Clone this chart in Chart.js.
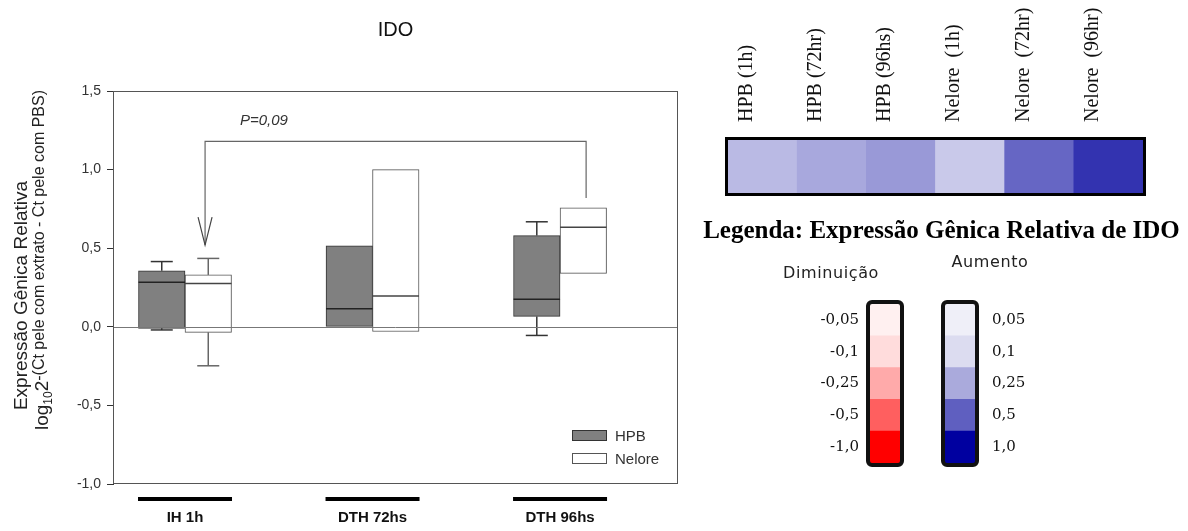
<!DOCTYPE html>
<html><head><meta charset="utf-8">
<script src="https://cdn.jsdelivr.net/npm/chart.js@4.4.1/dist/chart.umd.min.js"></script>
<style>
html,body{margin:0;padding:0;background:#fff;}
#wrap{position:relative;width:1188px;height:531px;overflow:hidden;background:#fff;}
canvas{position:absolute;}
</style></head><body>
<div id="wrap">
<canvas id="main" width="700" height="531" style="left:0;top:0;width:700px;height:531px"></canvas>
<canvas id="heat" width="488" height="210" style="left:700px;top:0;width:488px;height:210px"></canvas>
<canvas id="leg" width="488" height="331" style="left:700px;top:200px;width:488px;height:331px"></canvas>
</div>
<script>
// ---------- data: box plot ----------
const groups = ['IH 1h', 'DTH 72hs', 'DTH 96hs'];
const seriesNames = ['HPB', 'Nelore'];
const hpbQ1 = [-0.01, 0.00, 0.066];
const hpbQ3 = [0.356, 0.515, 0.58];
const hpbMedian = [0.284, 0.115, 0.176];
const hpbWhiskerLow = [-0.02, null, -0.055];
const hpbWhiskerHigh = [0.415, null, 0.668];
const neloreQ1 = [-0.035, -0.03, 0.34];
const neloreQ3 = [0.33, 1.0, 0.757];
const neloreMedian = [0.276, 0.196, 0.634];
const neloreWhiskerLow = [-0.248, null, null];
const neloreWhiskerHigh = [0.435, null, null];
const yTickValues = [-1.0, -0.5, 0.0, 0.5, 1.0, 1.5];
const chartTitle = 'IDO';
const yTitle1 = 'Expressão Gênica Relativa';
const yTitle2 = ['log', '10', '2', '-(Ct pele com extrato - Ct pele com PBS)'];
const pValueText = 'P=0,09';
// ---------- data: heat map ----------
const heatLabels = ['HPB (1h)', 'HPB (72hr)', 'HPB (96hs)', 'Nelore  (1h)', 'Nelore  (72hr)', 'Nelore  (96hr)'];
const heatValues = [0.27, 0.34, 0.40, 0.21, 0.60, 0.80];
// ---------- data: colour legend ----------
const legendTitle = 'Legenda: Expressão Gênica Relativa de IDO';
const decreaseTitle = 'Diminuição';
const increaseTitle = 'Aumento';
const decreaseLabels = ['-0,05', '-0,1', '-0,25', '-0,5', '-1,0'];
const increaseLabels = ['0,05', '0,1', '0,25', '0,5', '1,0'];

// ---------- styles / annotation placement ----------
const redPalette = ['#fff0f0', '#ffdcdc', '#ffaaaa', '#ff5f5f', '#ff0000'];
const bluePalette = ['#efeff8', '#dcdcf0', '#aaaadc', '#5f5fc0', '#0000a0'];
const bracket = { x1: 1.107, x2: 3.139, yTop: 1.18, yArrow: 0.52, yRight: 0.82 };
const pLabelPos = { x: 1.293, y: 1.31 };
function heatColor(t) {
  const r = Math.round(255 * (1 - t));
  const b = Math.round(255 * (1 - t) + 156 * t);
  return `rgb(${r},${r},${b})`;
}
const SANS = '"Liberation Sans", Arial, sans-serif';
const SERIF = '"Liberation Serif", "Times New Roman", serif';

function line(ctx, x1, y1, x2, y2) { ctx.beginPath(); ctx.moveTo(x1, y1); ctx.lineTo(x2, y2); ctx.stroke(); }

const mainDecor = {
  id: 'mainDecor',
  afterDatasetsDraw(chart) {
    const { ctx, chartArea: a, scales: { x, y } } = chart;
    ctx.save();
    chart.data.datasets.forEach((ds, di) => {
      const meta = chart.getDatasetMeta(di);
      meta.data.forEach((bar, i) => {
        const cx = bar.x, w = bar.width;
        ctx.strokeStyle = ds.medianColor; ctx.lineWidth = 1.5;
        const my = y.getPixelForValue(ds.medians[i]);
        line(ctx, cx - w / 2, my, cx + w / 2, my);
        ctx.strokeStyle = ds.whiskerColor; ctx.lineWidth = 1.5;
        const cap = 11;
        if (ds.wHigh[i] != null) {
          const t = y.getPixelForValue(ds.q3[i]), h = y.getPixelForValue(ds.wHigh[i]);
          line(ctx, cx, t, cx, h); line(ctx, cx - cap, h, cx + cap, h);
        }
        if (ds.wLow[i] != null) {
          const b = y.getPixelForValue(ds.q1[i]), l = y.getPixelForValue(ds.wLow[i]);
          line(ctx, cx, b, cx, l); line(ctx, cx - cap, l, cx + cap, l);
        }
      });
    });
    ctx.strokeStyle = '#777'; ctx.lineWidth = 1;
    const zy = Math.round(y.getPixelForValue(0)) + 0.5;
    line(ctx, a.left, zy, a.right, zy);
    ctx.strokeStyle = '#555';
    ctx.strokeRect(Math.round(a.left) + 0.5, Math.round(a.top) + 0.5, Math.round(a.right - a.left) - 1, Math.round(a.bottom - a.top) - 1);
    const bx1 = x.getPixelForValue(bracket.x1), bx2 = x.getPixelForValue(bracket.x2);
    const by = y.getPixelForValue(bracket.yTop), ba = y.getPixelForValue(bracket.yArrow), br = y.getPixelForValue(bracket.yRight);
    ctx.strokeStyle = '#666'; ctx.lineWidth = 1.2;
    ctx.beginPath(); ctx.moveTo(bx1, ba); ctx.lineTo(bx1, by); ctx.lineTo(bx2, by); ctx.lineTo(bx2, br); ctx.stroke();
    ctx.strokeStyle = '#444';
    ctx.beginPath(); ctx.moveTo(bx1 - 7, ba - 28); ctx.lineTo(bx1, ba); ctx.lineTo(bx1 + 7, ba - 28); ctx.stroke();
    ctx.fillStyle = '#333'; ctx.font = 'italic 15px ' + SANS; ctx.textAlign = 'left'; ctx.textBaseline = 'middle';
    ctx.fillText(pValueText, x.getPixelForValue(pLabelPos.x), y.getPixelForValue(pLabelPos.y));
    ctx.font = '15px ' + SANS; ctx.textBaseline = 'alphabetic';
    chart.data.datasets.forEach((ds, di) => {
      const sx = a.right - 106, sy = a.bottom - 54 + di * 23;
      ctx.fillStyle = ds.backgroundColor; ctx.fillRect(sx, sy, 35, 11);
      ctx.strokeStyle = ds.borderColor; ctx.lineWidth = 1; ctx.strokeRect(sx + 0.5, sy + 0.5, 34, 10);
      ctx.fillStyle = '#333'; ctx.fillText(ds.label, sx + 43, sy + 11);
    });
    ctx.restore();
  },
  afterDraw(chart) {
    const { ctx, chartArea: a, scales: { x } } = chart;
    ctx.save();
    ctx.strokeStyle = '#000'; ctx.lineWidth = 4;
    groups.forEach((g, i) => {
      const cx = x.getPixelForValue(i + 1);
      line(ctx, cx - 47, a.bottom + 15, cx + 47, a.bottom + 15);
    });
    ctx.fillStyle = '#111'; ctx.font = '20px ' + SANS; ctx.textAlign = 'center'; ctx.textBaseline = 'middle';
    ctx.fillText(chartTitle, (a.left + a.right) / 2, 30);
    const cy = (a.top + a.bottom) / 2 + 8;
    ctx.save(); ctx.translate(22, cy); ctx.rotate(-Math.PI / 2);
    ctx.fillStyle = '#222'; ctx.font = '19px ' + SANS; ctx.fillText(yTitle1, 0, 0);
    ctx.restore();
    ctx.save(); ctx.translate(48, 430); ctx.rotate(-Math.PI / 2);
    ctx.fillStyle = '#222'; ctx.textAlign = 'left'; ctx.textBaseline = 'alphabetic';
    let px = 0;
    ctx.font = '19px ' + SANS; ctx.fillText(yTitle2[0], px, 0); px += ctx.measureText(yTitle2[0]).width;
    ctx.font = '12px ' + SANS; ctx.fillText(yTitle2[1], px, 4); px += ctx.measureText(yTitle2[1]).width;
    ctx.font = '19px ' + SANS; ctx.fillText(yTitle2[2], px, 0); px += ctx.measureText(yTitle2[2]).width;
    ctx.font = '16px ' + SANS; ctx.fillText(yTitle2[3], px, -4);
    ctx.restore();
    ctx.restore();
  }
};

new Chart(document.getElementById('main'), {
  type: 'bar',
  data: {
    datasets: [
      { label: seriesNames[0], data: groups.map((g, i) => ({ x: i + 1, y: [hpbQ1[i], hpbQ3[i]] })),
        backgroundColor: '#808080', borderColor: '#333', borderWidth: 1, borderSkipped: false, barThickness: 46.5,
        q1: hpbQ1, q3: hpbQ3, medians: hpbMedian, wLow: hpbWhiskerLow, wHigh: hpbWhiskerHigh, medianColor: '#222', whiskerColor: '#333' },
      { label: seriesNames[1], data: groups.map((g, i) => ({ x: i + 1, y: [neloreQ1[i], neloreQ3[i]] })),
        backgroundColor: '#ffffff', borderColor: '#555', borderWidth: 1, borderSkipped: false, barThickness: 46.5,
        q1: neloreQ1, q3: neloreQ3, medians: neloreMedian, wLow: neloreWhiskerLow, wHigh: neloreWhiskerHigh, medianColor: '#444', whiskerColor: '#666' }
    ]
  },
  options: {
    responsive: false, animation: false, events: [],
    layout: { padding: { top: 91, right: 22, left: 0, bottom: 0 } },
    plugins: { legend: { display: false }, tooltip: { enabled: false }, title: { display: false } },
    scales: {
      x: {
        type: 'linear', min: 0.616, max: 3.629, offset: false,
        grid: { display: false, drawTicks: false }, border: { display: false },
        afterBuildTicks(s) { s.ticks = groups.map((g, i) => ({ value: i + 1 })); },
        ticks: { callback: (v) => groups[Math.round(v) - 1], font: { family: SANS, size: 15, weight: 'bold' }, color: '#111', padding: 25, autoSkip: false, maxRotation: 0 },
        afterFit(s) { s.height = 47; }
      },
      y: {
        type: 'linear', min: -1, max: 1.5,
        afterBuildTicks(s) { s.ticks = yTickValues.map(v => ({ value: v })); },
        ticks: { callback: (v) => Number(v).toFixed(1).replace('.', ','), font: { family: SANS, size: 14 }, color: '#333', padding: 6 },
        grid: { drawOnChartArea: false, drawTicks: true, tickLength: 6, tickColor: '#333' },
        border: { display: true, color: '#333' },
        afterFit(s) { s.width = 113; }
      }
    }
  },
  plugins: [mainDecor]
});

// ---------- heat map ----------
const heatBorder = {
  id: 'heatBorder',
  afterDatasetsDraw(chart) {
    const { ctx, chartArea: a } = chart;
    ctx.save(); ctx.strokeStyle = '#000'; ctx.lineWidth = 3;
    ctx.strokeRect(a.left - 1.5, a.top - 1.5, a.right - a.left + 3, a.bottom - a.top + 3);
    ctx.restore();
  }
};
new Chart(document.getElementById('heat'), {
  type: 'bar',
  data: { labels: heatLabels, datasets: [{ data: heatLabels.map(() => [0, 1]), backgroundColor: heatValues.map(heatColor), borderWidth: 0, barPercentage: 1, categoryPercentage: 1 }] },
  options: {
    responsive: false, animation: false, events: [],
    layout: { padding: { left: 28, right: 45, top: 0, bottom: 17 } },
    plugins: { legend: { display: false }, tooltip: { enabled: false } },
    scales: {
      x: { position: 'top', grid: { display: false, drawTicks: false }, border: { display: false },
        ticks: { minRotation: 90, maxRotation: 90, autoSkip: false, padding: 18, labelOffset: 8, font: { family: SERIF, size: 20 }, color: '#111' },
        afterFit(s) { s.height = 140; } },
      y: { display: false, min: 0, max: 1 }
    }
  },
  plugins: [heatBorder]
});

// ---------- colour legend ----------
const legDecor = {
  id: 'legDecor',
  afterDatasetsDraw(chart) {
    const { ctx, scales: { x, y } } = chart;
    ctx.save(); ctx.lineWidth = 4; ctx.strokeStyle = '#111';
    const t = y.getPixelForValue(5), b = y.getPixelForValue(0);
    [0, 1].forEach(v => {
      const cx = x.getPixelForValue(v);
      ctx.beginPath(); ctx.roundRect(cx - 17, t - 2, 34, b - t + 4, 4); ctx.stroke();
    });
    ctx.fillStyle = '#222'; ctx.font = '16px "DejaVu Sans", sans-serif'; ctx.textAlign = 'center'; ctx.textBaseline = 'middle';
    try { ctx.letterSpacing = '0.6px'; } catch (e) {}
    ctx.fillText(decreaseTitle, x.getPixelForValue(0) - 54, t - 30);
    ctx.fillText(increaseTitle, x.getPixelForValue(1) + 30, t - 41);
    ctx.restore();
  }
};
new Chart(document.getElementById('leg'), {
  type: 'bar',
  data: {
    datasets: [0, 1, 2, 3, 4].map(k => {
      const j = 4 - k;
      return { data: [{ x: 0, y: 1 }, { x: 1, y: 1 }], backgroundColor: [redPalette[j], bluePalette[j]], borderWidth: 0, barThickness: 30, xAxisID: 'x', yAxisID: 'y' };
    })
  },
  options: {
    responsive: false, animation: false, events: [],
    layout: { padding: { left: 0, right: 5, top: 0, bottom: 68 } },
    plugins: {
      legend: { display: false }, tooltip: { enabled: false },
      title: { display: true, text: legendTitle, font: { family: SERIF, size: 25, weight: 'bold' }, color: '#000', padding: { top: 17, bottom: 57 } }
    },
    scales: {
      x: { type: 'linear', display: false, min: -0.28, max: 1.36, offset: false, stacked: true },
      y: { type: 'linear', display: false, min: 0, max: 5, stacked: true },
      yl: { type: 'category', labels: decreaseLabels, position: 'left', offset: true,
        grid: { display: false, drawTicks: false }, border: { display: false },
        ticks: { font: { family: '"DejaVu Serif", serif', size: 15 }, color: '#111', padding: 5 },
        afterFit(s) { s.width = 164; } },
      yr: { type: 'category', labels: increaseLabels, position: 'right', offset: true,
        grid: { display: false, drawTicks: false }, border: { display: false },
        ticks: { font: { family: '"DejaVu Serif", serif', size: 15 }, color: '#111', padding: 5 },
        afterFit(s) { s.width = 196; } }
    }
  },
  plugins: [legDecor]
});
</script>
</body></html>
